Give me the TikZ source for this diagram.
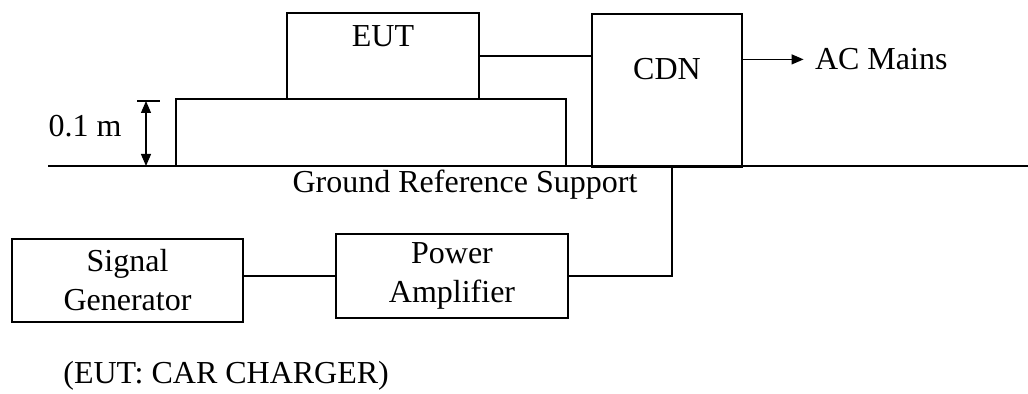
\documentclass[tikz,border=0pt]{standalone}
\usepackage{fontspec}
\setmainfont{Liberation Serif}
\usetikzlibrary{arrows.meta,positioning}

\begin{document}
\begin{tikzpicture}[x=0.5pt,y=-0.5pt,>={Triangle[length=6pt,width=5pt]},
  every node/.style={font=\fontsize{16}{19.5}\selectfont},
  unit/.style={draw,line width=0.6pt,inner sep=0pt},
  wire/.style={line width=0.6pt}]
\useasboundingbox (0,0) rectangle (1028,394);
%%%BOXES
\node[unit,minimum width=96pt,minimum height=43pt] (eut) at (383,56) {};
\node[unit,minimum width=75pt,minimum height=76.5pt] (cdn) at (667,90.5) {};
\node[unit,minimum width=115.5pt,minimum height=41.5pt,align=center] (sg) at (127.5,280.5) {Signal\\Generator};
\node[unit,minimum width=116pt,minimum height=42pt,align=center] (pa) at (452,276) {Power\\Amplifier};
%%%BOX LABELS
\node[inner sep=0pt,below=6.5pt of eut.north] (eutlbl) {EUT};
\node[inner sep=0pt,below=22.5pt of cdn.north] (cdnlbl) {CDN};
%%%GROUND
\coordinate (gndL) at (48,166);
\coordinate (gndR) at (1028,166);
\draw[wire] (gndL) -- (gndR);
\node[inner sep=0pt,anchor=north] (gndlbl) at (465,170) {Ground Reference Support};
%%%TABLE
\draw[wire] (176,166) -- (176,99) -- (566,99) -- (566,166);
%%%HEIGHT
\coordinate (htop) at (146,101);
\coordinate (hbot) at (146,166);
\draw[wire] (137,101) -- (160,101);
\draw[wire,<->] (htop) -- (hbot);
\node[inner sep=0pt,anchor=east] (hlbl) at (122,126) {0.1 m};
%%%WIRES
\draw[wire] (eut.east) -- (eut.east -| cdn.west);
\draw[wire] (pa.west -| sg.east) -- (pa.west);
\draw[wire] (pa.east) -| ([xshift=2.5pt]cdn.south);
\draw[wire,->] ([yshift=-23pt]cdn.north east) -- ++(61,0) coordinate (acend);
\node[inner sep=0pt,right=5.5pt of acend] (aclbl) {AC Mains};
%%%NOTE
\node[inner sep=0pt,anchor=base west] (note) at (63,384) {(EUT: CAR CHARGER)};
\end{tikzpicture}
\end{document}
